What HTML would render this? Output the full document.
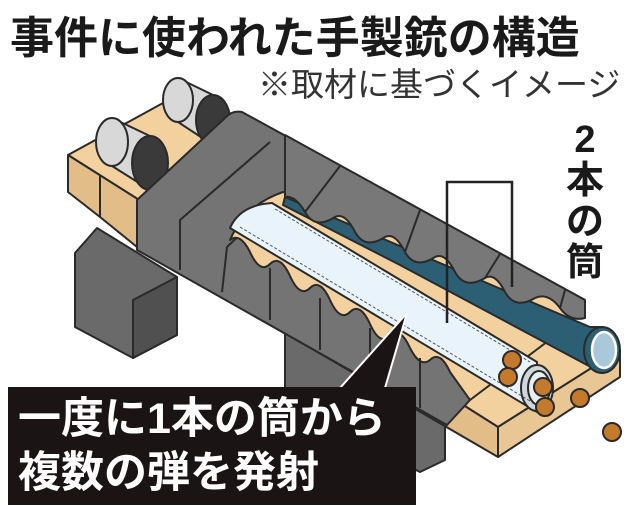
<!DOCTYPE html>
<html><head><meta charset="utf-8"><style>
html,body{margin:0;padding:0;background:#fff;}
body{width:640px;height:508px;overflow:hidden;position:relative;font-family:"Liberation Sans","Noto Sans CJK JP",sans-serif;}
.t{position:absolute;white-space:nowrap;}
</style></head><body>
<svg width="640" height="508" style="position:absolute;left:0;top:0" xmlns="http://www.w3.org/2000/svg">
<g stroke="#2a2a2a" stroke-width="2" stroke-linejoin="round">
<!-- legs -->
<polygon points="75,253 97,228 177,277 177,335 133,358 75,327" fill="#6a6a6a"/>
<polygon points="133,300 177,277 177,335 133,358" fill="#505050"/>
<polygon points="285,330 300,322 445,400 445,460 420,472 285,405" fill="#6a6a6a"/>
<!-- board -->
<polygon points="68,155 163,103 620,350 498,427" fill="#f3d19f"/>
<polygon points="68,155 498,427 498,457 137,247 100,217 68,192" fill="#e2bd88"/>
<line x1="100" y1="175" x2="100" y2="217"/>
<polygon points="498,427 620,350 620,377 498,457" fill="#e8c795"/>
<!-- rollers -->
<polygon points="178,78 213,95 213,145 178,122" fill="#d8d8d8"/>
<ellipse cx="178" cy="100" rx="15" ry="22" fill="#d8d8d8"/>
<ellipse cx="213" cy="120" rx="17" ry="25" fill="#3a3a3a"/>
<polygon points="112,118 150,136 150,190 112,166" fill="#d8d8d8"/>
<ellipse cx="112" cy="142" rx="16" ry="24" fill="#d8d8d8"/>
<ellipse cx="150" cy="163" rx="18" ry="27" fill="#3a3a3a"/>
<!-- gray body -->
<path d="M137,250 L137,200 L225,118 Q232,110 242,112 L585,300 L560,320 L470,400 L447,425 Z" fill="#747474"/>
<path d="M180,270 L180,220 L270,142" fill="none"/>
<path d="M222,292 L227,247 L318,160" fill="none"/>
<!-- channel tan -->
<path d="M283,192 L585,305 L560,332 L470,400 L450,372 Q440,350 430,360 Q420,368 410,348 Q400,326 390,336 Q380,346 370,324 Q360,302 350,312 Q340,322 330,300 Q320,278 310,288 Q300,298 290,276 Q280,254 270,264 Q260,274 250,252 Q240,232 230,240 Q245,205 283,192 Z" fill="#f3d19f"/>
<!-- teal -->
<polygon points="285,197 590,327 602,327 602,373 400,265 283,205" fill="#2d5f74"/>
<!-- gray wavy overlay over teal -->
<path d="M285,135 L585,300 L585,318 Q570,322 560,308 Q548,292 535,298 Q515,310 505,292 Q495,272 485,278 Q465,290 455,272 Q445,252 435,257 Q415,270 405,252 Q395,232 385,237 Q365,250 355,232 Q345,212 335,217 Q315,230 305,212 Q295,195 285,197 Z" fill="#787878"/>
<path d="M340,166 L305,212 M420,210 L405,252 M500,254 L485,278 M565,290 L560,308" fill="none"/>
<ellipse cx="602" cy="350" rx="18" ry="23" fill="#2d5f74"/>
<ellipse cx="604" cy="350" rx="12" ry="18" fill="#a9c9da" stroke="#fff" stroke-width="2.5"/>
<!-- white tube -->
<path d="M272,203 L537,362 L537,412 L230,228 Q240,205 272,203 Z" fill="#e8f3fb"/>
<ellipse cx="537" cy="388" rx="16" ry="23" fill="#cfd8dc"/>
<ellipse cx="539" cy="388" rx="11" ry="17" fill="#e6eef2"/>
<!-- lower gray dividers -->
<path d="M270,268 L270,320 M320,298 L320,350 M370,328 L370,378 M420,358 L420,408" fill="none"/>
</g>
<g stroke="#555" stroke-width="1" stroke-dasharray="3 2" fill="none">
<line x1="275" y1="209" x2="530" y2="362"/>
<line x1="240" y1="227" x2="530" y2="401"/>
</g>
<!-- balls -->
<g fill="#c47a2c" stroke="#2a2a2a" stroke-width="2">
<circle cx="512" cy="360" r="9"/><circle cx="508" cy="377" r="9"/><circle cx="543" cy="387" r="9"/>
<circle cx="545" cy="407" r="9"/><circle cx="580" cy="398" r="9"/><circle cx="612" cy="432" r="9"/>
</g>
<!-- leader lines -->
<polyline points="447,323 447,182 512,182 512,287" fill="none" stroke="#222" stroke-width="2.5"/>
<!-- label box -->
<polygon points="340,388 407,313 385,388" fill="#1a1414" stroke="#fff" stroke-width="2"/>
<rect x="8" y="387" width="408" height="118" fill="#1a1414"/>
</svg>
<div class="t" style="left:10px;top:2px;font-size:44px;font-weight:bold;color:#1a1a1a;">事件に使われた手製銃の構造</div>
<div class="t" style="left:258px;top:58px;font-size:33px;color:#333;">※取材に基づくイメージ</div>
<div class="t" style="left:565px;top:120px;font-size:38px;font-weight:bold;color:#1a1a1a;line-height:41px;width:40px;text-align:center;">2<br>本<br>の<br>筒</div>
<div class="t" style="left:18px;top:392px;font-size:43px;font-weight:bold;color:#fff;line-height:54px;">一度に1本の筒から<br>複数の弾を発射</div>
</body></html>
